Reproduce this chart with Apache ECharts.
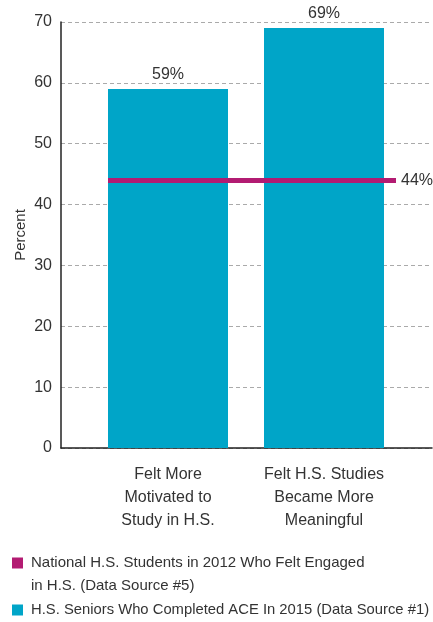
<!DOCTYPE html>
<html>
<head>
<meta charset="utf-8">
<script src="https://cdn.jsdelivr.net/npm/echarts@6/dist/echarts.min.js"></script>
<style>
html,body{margin:0;padding:0;background:#fff;}
#chart{width:433px;height:622px;}
</style>
</head>
<body>
<div id="chart"></div>
<script>
// ---- data ----
const categories = ['Felt More\nMotivated to\nStudy in H.S.', 'Felt H.S. Studies\nBecame More\nMeaningful'];
const aceSeniors = [59, 69];
const nationalEngaged = [44];
const seriesNames = ['National H.S. Students in 2012 Who Felt Engaged\nin H.S. (Data Source #5)', 'H.S. Seniors Who Completed ACE In 2015 (Data Source #1)'];
const yTicks = { min: 0, max: 70, interval: 10 };

// ---- style / layout ----
const FONT = "'Liberation Sans', Arial, sans-serif";
const CYAN = '#00A5C8';
const MAGENTA = '#B31B72';
const TEXT = '#333333';
const LINE_X0 = 108, LINE_X1 = 396;

const chart = echarts.init(document.getElementById('chart'));
chart.setOption({
  animation: false,
  textStyle: { fontFamily: FONT },
  grid: [
    { left: 61, right: 1, top: 22, bottom: 174, outerBoundsMode: 'none', containLabel: false },
    { left: 90, right: 31, top: 22, bottom: 174, outerBoundsMode: 'none', containLabel: false }
  ],
  xAxis: [
    { type: 'value', gridIndex: 0, min: 0, max: 1, show: true,
      axisLine: { show: true, onZero: false, lineStyle: { color: '#222', width: 1.5 } },
      axisTick: { show: false }, axisLabel: { show: false }, splitLine: { show: false } },
    { type: 'category', gridIndex: 1, data: categories,
      axisLine: { show: false }, axisTick: { show: false },
      axisLabel: { fontFamily: FONT, fontSize: 16, color: TEXT, lineHeight: 23, margin: 15, interval: 0 } }
  ],
  yAxis: [
    { type: 'value', gridIndex: 0, min: yTicks.min, max: yTicks.max, interval: yTicks.interval,
      name: 'Percent', nameLocation: 'middle', nameGap: 33, nameMoveOverlap: false,
      nameTextStyle: { fontFamily: FONT, fontSize: 15, color: TEXT },
      axisLine: { show: true, lineStyle: { color: '#222', width: 1.5 } },
      axisTick: { show: false },
      axisLabel: { fontFamily: FONT, fontSize: 16, color: TEXT, margin: 9 },
      splitLine: { show: true, lineStyle: { color: '#aaa', type: [4, 3], width: 1 } } },
    { type: 'value', gridIndex: 1, min: yTicks.min, max: yTicks.max, interval: yTicks.interval, show: false }
  ],
  legend: [
    { orient: 'vertical', left: 12, top: 528.5, padding: 0, itemWidth: 11, itemHeight: 11,
      icon: 'rect', selectedMode: false,
      formatter: function (name) { return '\n' + name; },
      textStyle: { fontFamily: FONT, fontSize: 15, color: TEXT, lineHeight: 23, padding: [0, 0, 0, 3] },
      data: [ { name: seriesNames[0], itemStyle: { color: MAGENTA } } ] },
    { orient: 'vertical', left: 12, top: 598.5, padding: 0, itemWidth: 11, itemHeight: 11,
      icon: 'rect', selectedMode: false,
      textStyle: { fontFamily: FONT, fontSize: 14.8, color: TEXT, lineHeight: 23, padding: [0, 0, 0, 3] },
      data: [ { name: seriesNames[1], itemStyle: { color: CYAN } } ] }
  ],
  series: [
    { name: seriesNames[1], type: 'bar', xAxisIndex: 1, yAxisIndex: 1,
      data: aceSeniors, barWidth: 120, itemStyle: { color: CYAN },
      label: { show: true, position: 'top', distance: 6, formatter: '{c}%', fontFamily: FONT, fontSize: 16, color: TEXT } },
    { name: seriesNames[0], type: 'line', xAxisIndex: 1, yAxisIndex: 1, data: [],
      itemStyle: { color: MAGENTA }, lineStyle: { color: MAGENTA },
      markLine: {
        silent: true, symbol: ['none', 'none'],
        lineStyle: { color: MAGENTA, width: 5, type: 'solid' },
        label: { show: true, position: 'end', distance: 5, formatter: nationalEngaged[0] + '%', fontFamily: FONT, fontSize: 16, color: TEXT },
        data: [[ { x: LINE_X0, yAxis: nationalEngaged[0] }, { x: LINE_X1, yAxis: nationalEngaged[0] } ]]
      } }
  ]
});
</script>
</body>
</html>
